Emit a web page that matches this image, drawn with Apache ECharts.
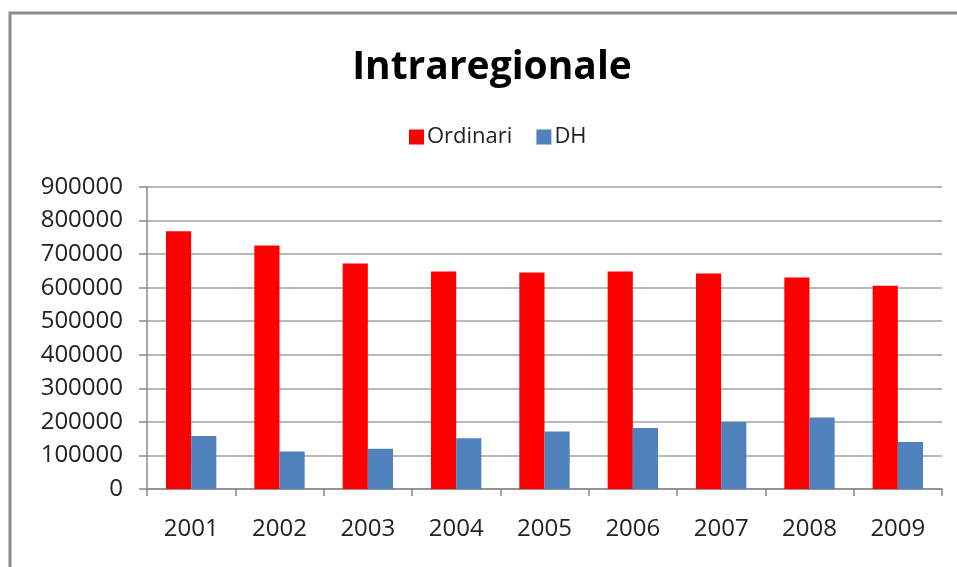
<!DOCTYPE html>
<html>
<head>
<meta charset="utf-8">
<script src="https://cdn.jsdelivr.net/npm/echarts@6/dist/echarts.min.js"></script>
<style>
  html, body { margin: 0; padding: 0; background: #fff; }
  #chart { width: 957px; height: 567px; }
</style>
</head>
<body>
<div id="chart"></div>
<script>
  // dati
  var anni = ['2001', '2002', '2003', '2004', '2005', '2006', '2007', '2008', '2009'];
  var ordinari = [768000, 726000, 672000, 648000, 645000, 648000, 642000, 630000, 606000];
  var dh = [158000, 112000, 120000, 151000, 171000, 182000, 200000, 213000, 140000];

  var chart = echarts.init(document.getElementById('chart'));
  var font = '"Open Sans", sans-serif';

  chart.setOption({
    animation: false,
    backgroundColor: '#fff',
    graphic: [{
      type: 'rect',
      shape: { x: 10, y: 13, width: 1000, height: 600 },
      style: { fill: 'none', stroke: '#8a8a8a', lineWidth: 3 },
      silent: true
    }],
    title: {
      text: 'Intraregionale',
      left: 487,
      textAlign: 'center',
      top: 43,
      textStyle: { fontFamily: font, fontSize: 39, fontWeight: 'bold', color: '#000' }
    },
    legend: {
      data: ['Ordinari', 'DH'],
      left: 404,
      top: 121,
      itemWidth: 15,
      itemHeight: 15,
      itemGap: 24,
      icon: 'rect',
      textStyle: { fontFamily: font, fontSize: 22, color: '#222', padding: [0, 0, 0, -2] }
    },
    grid: { left: 147, right: 15, top: 187, bottom: 78 },
    xAxis: {
      type: 'category',
      data: anni,
      axisLine: { lineStyle: { color: '#888', width: 1.5 } },
      axisTick: { show: true, length: 7, lineStyle: { color: '#888', width: 1.5 } },
      axisLabel: { fontFamily: font, fontSize: 24, color: '#222', margin: 28 }
    },
    yAxis: {
      type: 'value',
      min: 0,
      max: 900000,
      interval: 100000,
      axisLine: { show: true, lineStyle: { color: '#888', width: 1.5 } },
      axisTick: { show: true, length: 8, lineStyle: { color: '#888', width: 1.5 } },
      axisLabel: {
        fontFamily: font, fontSize: 24, color: '#222', margin: 24,
        formatter: function (v) { return String(v); }
      },
      splitLine: { lineStyle: { color: '#a0a0a0', width: 1.5 } }
    },
    series: [{
      name: 'Ordinari',
      type: 'bar',
      data: ordinari,
      barGap: '0%',
      barCategoryGap: '43%',
      itemStyle: { color: '#ff0000' }
    }, {
      name: 'DH',
      type: 'bar',
      data: dh,
      itemStyle: { color: '#4f81bd' }
    }]
  });
</script>
</body>
</html>
